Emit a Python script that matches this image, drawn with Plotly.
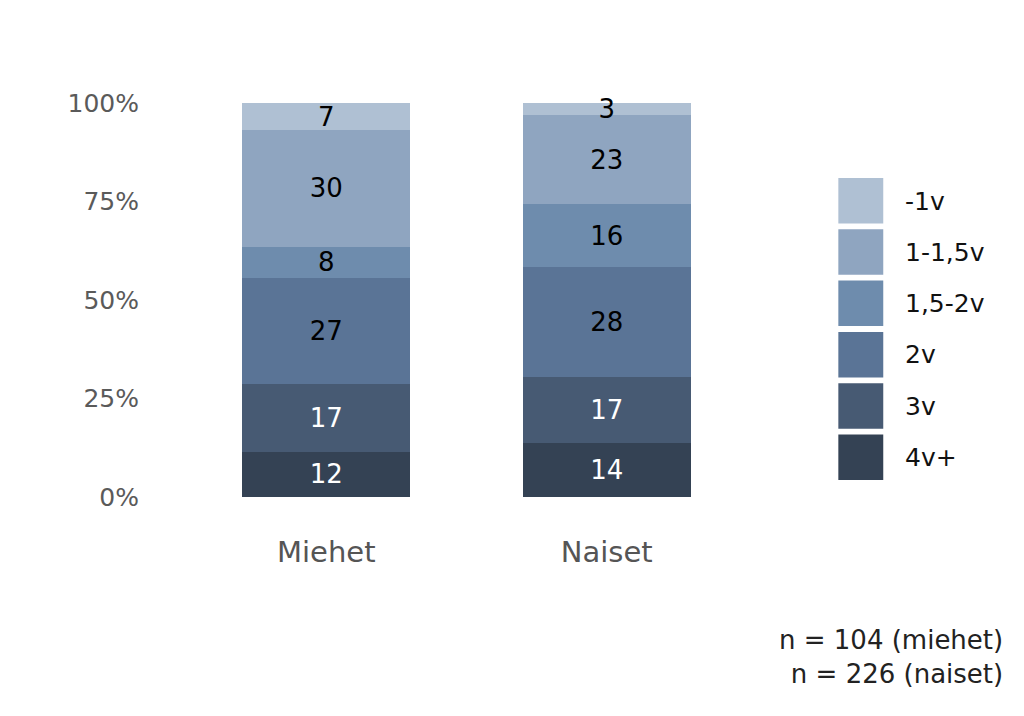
import plotly.graph_objects as go

# data: share (%) per group, bottom to top
ryhmat = ["Miehet", "Naiset"]
luokat = ["4v+", "3v", "2v", "1,5-2v", "1-1,5v", "-1v"]
miehet = [11.5, 17.3, 26.9, 7.7, 29.8, 6.7]
naiset = [13.7, 16.8, 27.9, 15.9, 22.6, 3.1]
miehet_lbl = [12, 17, 27, 8, 30, 7]
naiset_lbl = [14, 17, 28, 16, 23, 3]
y_tikit = [0, 25, 50, 75, 100]
y_tekstit = ["0%", "25%", "50%", "75%", "100%"]
n_teksti = "n = 104 (miehet)<br>n = 226 (naiset)"

varit = ["#344254", "#475a73", "#5a7496", "#6e8cad", "#8fa5c0", "#afc0d3"]
tekstivarit = ["white", "white", "black", "black", "black", "black"]
FONTTI = "DejaVu Sans"

fig = go.Figure()
for i, luokka in enumerate(luokat):
    fig.add_bar(
        x=ryhmat,
        y=[miehet[i], naiset[i]],
        name=luokka,
        text=[miehet_lbl[i], naiset_lbl[i]],
        textposition="inside",
        insidetextanchor="middle",
        textangle=0,
        textfont=dict(size=26, color=tekstivarit[i], family=FONTTI),
        marker=dict(color=varit[i], line=dict(width=0)),
        cliponaxis=False,
        showlegend=False,
        hoverinfo="skip",
    )

# plot area in pixels
L, R, T, B = 185.5, 747.5, 103, 497
W, H = 1024, 716


def px_x(p):
    return (p - L) / (R - L)


def px_y(p):
    return (B - p) / (B - T)


# hand-drawn legend with big squares, top item first
shapes = []
annotations = []
for k, luokka in enumerate(reversed(luokat)):
    top = 178 + k * 51.3
    vari = list(reversed(varit))[k]
    shapes.append(dict(
        type="rect", xref="paper", yref="paper",
        x0=px_x(839), x1=px_x(884), y0=px_y(top + 45.5), y1=px_y(top),
        fillcolor=vari, line=dict(width=0), layer="above",
    ))
    annotations.append(dict(
        text=luokka, xref="paper", yref="paper",
        x=px_x(904), y=px_y(top + 23), xanchor="left", yanchor="middle",
        showarrow=False, font=dict(size=25, color="#111111", family=FONTTI),
    ))

annotations.append(dict(
    text=n_teksti, xref="paper", yref="paper",
    x=px_x(1006), y=px_y(691), xanchor="right", yanchor="bottom", align="right",
    showarrow=False, font=dict(size=26, color="#222222", family=FONTTI),
))

fig.update_layout(
    width=W, height=H,
    barmode="stack",
    bargap=0.4,
    margin=dict(l=L, r=W - R, t=T, b=H - B, pad=0),
    paper_bgcolor="white",
    plot_bgcolor="white",
    font=dict(family=FONTTI),
    uniformtext=dict(minsize=22, mode="show"),
    shapes=shapes,
    annotations=annotations,
)
fig.update_yaxes(
    range=[0, 100],
    tickvals=y_tikit,
    ticktext=y_tekstit,
    showgrid=False,
    zeroline=False,
    showline=False,
    ticks="",
    ticklabelstandoff=46,
    tickfont=dict(size=25, color="#5a5a5a", family=FONTTI),
)
fig.update_xaxes(
    showgrid=False,
    showline=False,
    ticks="",
    ticklabelstandoff=35,
    tickfont=dict(size=29, color="#555555", family=FONTTI),
)

# no body margin, so the figure sits at the window's top-left corner
fig.write_html(
    "out.html",
    config={"displayModeBar": False},
    post_script="document.body.style.margin='0';",
)
